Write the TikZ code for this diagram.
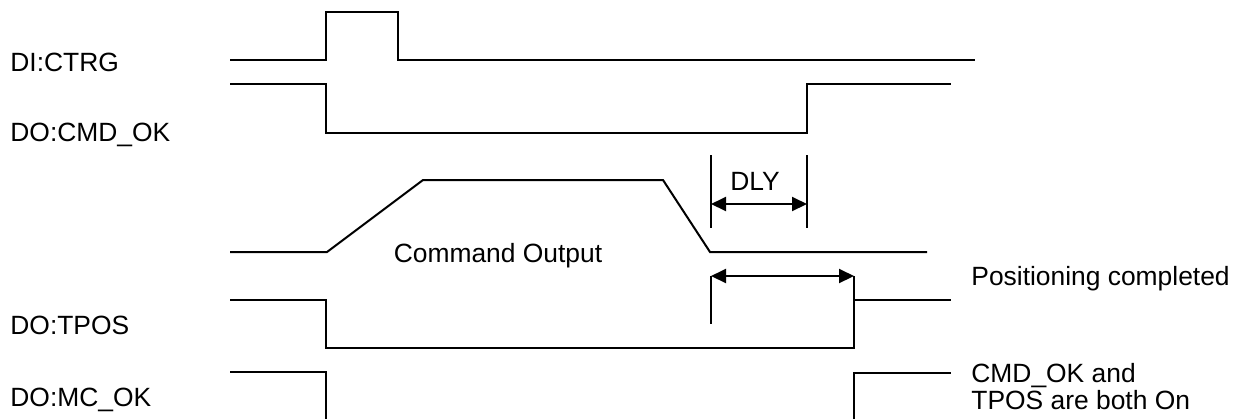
\documentclass[tikz,border=0pt]{standalone}
\usepackage{fontspec}
\setmainfont{Liberation Sans}
\usetikzlibrary{arrows.meta}
\tikzset{
  % a signal trace
  wave/.style = {line width=1pt},
  % a bar marking one end of a time span
  bar/.style  = {line width=1pt},
  % a time span
  span/.style = {{Triangle[length=7.5pt,width=7pt]}-{Triangle[length=7.5pt,width=7pt]},
                 line width=1pt},
  % a signal name
  sig/.style  = {anchor=base west, inner sep=0pt,
                 font=\fontsize{13.2}{13.5}\selectfont},
  % a note on the trace
  note/.style = {inner sep=0pt, font=\fontsize{13.2}{13.5}\selectfont},
}
\begin{document}
\begin{tikzpicture}[x=0.5pt, y=-0.5pt]
  \useasboundingbox (0,0) rectangle (1241,419);
  % --- signal names ---
  \node[sig] (nctrg) at (10, 71)  {DI:CTRG};
  \node[sig] (ncmd)  at (10,141)  {DO:CMD\_OK};
  \node[sig] (ntpos) at (10,334)  {DO:TPOS};
  \node[sig] (nmcok) at (10,406)  {DO:MC\_OK};
  % --- traces ---
  \draw[wave] (230,60) -- (326,60) -- (326,12) -- (398,12) -- (398,60) -- (975,60);
  \draw[wave] (230,84) -- (326,84) -- (326,133) -- (807,133) -- (807,84) -- (951,84);
  \draw[wave] (230,252) -- (327,252) -- (423,180) -- (663,180) -- (710,252) -- (927,252);
  \draw[wave] (230,300) -- (326,300) -- (326,348) -- (854,348) -- (854,300) -- (951,300);
  \draw[wave] (230,372) -- (326,372) -- (326,419);
  \draw[wave] (854,419) -- (854,373) -- (951,373);
  % --- notes ---
  \node[note, anchor=base] (ncout) at (498,262) {Command Output};
  \node[note, anchor=base] (ndly)  at (755,190) {DLY};
  \node[note, anchor=base west] (npos) at (971,285) {Positioning completed};
  \node[note, anchor=base west, align=left] (nboth) at (971,409)
    {CMD\_OK and\\TPOS are both On};
  % --- DLY and the settling span ---
  \coordinate (d1t) at (711,155);
  \coordinate (d1b) at (711,228);
  \coordinate (d2t) at (807,155);
  \coordinate (d2b) at (807,228);
  \coordinate (s1t) at (711,276);
  \coordinate (s1b) at (711,324);
  \coordinate (s2)  at (854,276);
  \draw[bar] (d1t) -- (d1b);
  \draw[bar] (d2t) -- (d2b);
  \draw[bar] (s1t) -- (s1b);
  \draw[bar] (s2) -- (854,300);
  \draw[span] (711,204) -- (807,204);
  \draw[span] (s1t) -- (s2);
\end{tikzpicture}
\end{document}
